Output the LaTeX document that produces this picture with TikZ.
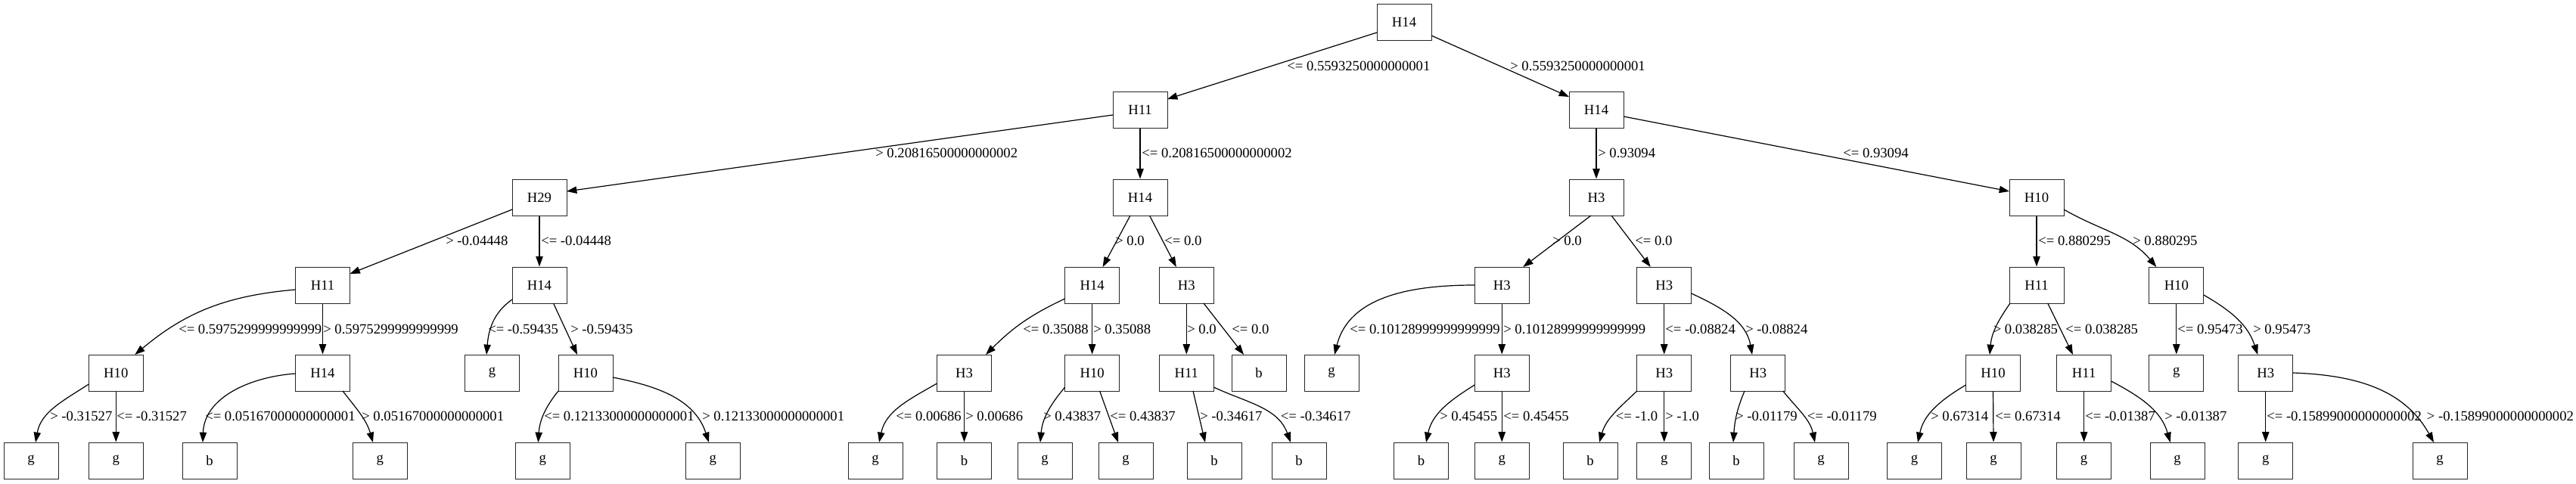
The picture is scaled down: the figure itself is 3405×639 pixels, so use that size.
\documentclass[tikz,border=0pt]{standalone}
\usepackage{fontspec}
\setmainfont{Liberation Serif}
\usetikzlibrary{arrows.meta}
\newcommand\edgelab[4]{\node[lbl] (#1) at (#2,-#3) {#4};}
\begin{document}
\begin{tikzpicture}[x=0.75pt,y=0.75pt,
  box/.style={draw=black!85,line width=0.75pt,minimum width=54pt,minimum height=36pt,inner sep=0pt,font=\fontsize{14}{16}\selectfont},
  edge/.style={line width=0.9pt,-{Triangle[length=10pt,width=7pt]}},
  lbl/.style={anchor=base west,inner sep=0pt,font=\fontsize{14}{16}\selectfont}]
\fill[white] (0,0) rectangle (3405,-639);
\useasboundingbox (0,0) rectangle (3405,-639);
% level 1-3
\node[box] (r) at (1856,-29) {H14};
\node[box] (a) at (1507,-145) {H11};
\node[box] (b) at (2110,-145) {H14};
\node[box] (c) at (713,-261) {H29};
\node[box] (d) at (1507,-261) {H14};
\node[box] (e) at (2110,-261) {H3};
\node[box] (f) at (2692,-261) {H10};
% level 4
\node[box] (g1) at (426.5,-377) {H11};
\node[box] (g2) at (713,-377) {H14};
\node[box] (g3) at (1443.6,-377) {H14};
\node[box] (g4) at (1568.3,-377) {H3};
\node[box] (g5) at (1985.2,-377) {H3};
\node[box] (g6) at (2199.7,-377) {H3};
\node[box] (g7) at (2692,-377) {H11};
\node[box] (g8) at (2876.8,-377) {H10};
% level 5
\node[box] (h1) at (153.3,-493) {H10};
\node[box] (h2) at (426.5,-493) {H14};
\node[box] (h3) at (650.5,-493) {g};
\node[box] (h4) at (774,-493) {H10};
\node[box] (h5) at (1274.5,-493) {H3};
\node[box] (h6) at (1443.6,-493) {H10};
\node[box] (h7) at (1568.3,-493) {H11};
\node[box] (h8) at (1664,-493) {b};
\node[box] (h9) at (1760,-493) {g};
\node[box] (h10) at (1985.2,-493) {H3};
\node[box] (h11) at (2199.7,-493) {H3};
\node[box] (h12) at (2323.7,-493) {H3};
\node[box] (h13) at (2634.5,-493) {H10};
\node[box] (h14) at (2754.6,-493) {H11};
\node[box] (h15) at (2876.8,-493) {g};
\node[box] (h16) at (2994.7,-493) {H3};
% level 6
\node[box] (k1) at (41,-609) {g};
\node[box] (k2) at (153.3,-609) {g};
\node[box] (k3) at (277,-609) {b};
\node[box] (k4) at (502.4,-609) {g};
\node[box] (k5) at (717.3,-609) {g};
\node[box] (k6) at (942.4,-609) {g};
\node[box] (k7) at (1157,-609) {g};
\node[box] (k8) at (1274.5,-609) {b};
\node[box] (k9) at (1381,-609) {g};
\node[box] (k10) at (1488,-609) {g};
\node[box] (k11) at (1605,-609) {b};
\node[box] (k12) at (1717,-609) {b};
\node[box] (k13) at (1878.5,-609) {b};
\node[box] (k14) at (1985.2,-609) {g};
\node[box] (k15) at (2102,-609) {b};
\node[box] (k16) at (2199.7,-609) {g};
\node[box] (k17) at (2295,-609) {b};
\node[box] (k18) at (2407,-609) {g};
\node[box] (k19) at (2530.6,-609) {g};
\node[box] (k20) at (2635,-609) {g};
\node[box] (k21) at (2754.6,-609) {g};
\node[box] (k22) at (2878,-609) {g};
\node[box] (k23) at (2994.7,-609) {g};
\node[box] (k24) at (3225,-609) {g};
% edges
\draw[edge] ([shift={(-36,-14)}]r.center) -- ([shift={(36,14)}]a.center);
\draw[edge] ([shift={(36,-18)}]r.center) -- ([shift={(-36,17)}]b.center);
\draw[edge] ([shift={(-36,-7)}]a.center) -- ([shift={(36,8)}]c.center);
\draw[edge] (a.south) -- (d.north);
\draw[edge] (b.south) -- (e.north);
\draw[edge] ([shift={(36,-9)}]b.center) -- ([shift={(-36,8)}]f.center);
\draw[edge] ([shift={(-36,-16)}]c.center) -- ([shift={(36,15)}]g1.center);
\draw[edge] (c.south) -- (g2.north);
\draw[edge] ([shift={(-13,-24)}]d.center) -- ([shift={(14,24)}]g3.center);
\draw[edge] ([shift={(12.5,-24)}]d.center) -- ([shift={(-13.5,24)}]g4.center);
\draw[edge] ([shift={(-7,-24)}]e.center) -- ([shift={(28,24)}]g5.center);
\draw[edge] ([shift={(20,-24)}]e.center) -- ([shift={(-18,24)}]g6.center);
\draw[edge] (f.south) -- (g7.north);
\draw[edge] ([shift={(36,-16)}]f.center) to[out=-30,in=130] ([shift={(-26.5,24)}]g8.center);
\draw[edge] ([shift={(-36,-6)}]g1.center) to[out=185,in=40] ([shift={(25,24)}]h1.center);
\draw[edge] (g1.south) -- (h2.north);
\draw[edge] ([shift={(-36,-19)}]g2.center) to[out=215,in=85] ([shift={(-7.5,24)}]h3.center);
\draw[edge] ([shift={(18.5,-24)}]g2.center) -- ([shift={(-11,24)}]h4.center);
\draw[edge] ([shift={(-36,-18)}]g3.center) to[out=205,in=45] ([shift={(28.5,24)}]h5.center);
\draw[edge] (g3.south) -- (h6.north);
\draw[edge] (g4.south) -- (h7.north);
\draw[edge] ([shift={(22.7,-24)}]g4.center) -- ([shift={(-20,24)}]h8.center);
\draw[edge] ([shift={(-36,0)}]g5.center) to[out=180,in=76] ([shift={(4,24)}]h9.center);
\draw[edge] (g5.south) -- (h10.north);
\draw[edge] (g6.south) -- (h11.north);
\draw[edge] ([shift={(36,-11)}]g6.center) to[out=-25,in=100] ([shift={(-7.7,24)}]h12.center);
\draw[edge] ([shift={(-35,-24)}]g7.center) to[out=235,in=85] ([shift={(-4.5,24)}]h13.center);
\draw[edge] ([shift={(14.7,-24)}]g7.center) -- ([shift={(-14.6,24)}]h14.center);
\draw[edge] (g8.south) -- (h15.north);
\draw[edge] ([shift={(36,-13)}]g8.center) to[out=-30,in=108] ([shift={(-10.5,24)}]h16.center);
\draw[edge] ([shift={(-36,-15)}]h1.center) to[out=213,in=80] ([shift={(6,24)}]k1.center);
\draw[edge] (h1.south) -- (k2.north);
\draw[edge] ([shift={(-36,-1)}]h2.center) to[out=184,in=88] ([shift={(-9,24)}]k3.center);
\draw[edge] ([shift={(26.5,-24)}]h2.center) to[out=-52,in=106] ([shift={(-9.4,24)}]k4.center);
\draw[edge] ([shift={(-36,-24)}]h4.center) to[out=231,in=86] ([shift={(-6,24)}]k5.center);
\draw[edge] ([shift={(36,-6)}]h4.center) to[out=-11,in=108] ([shift={(-5.4,24)}]k6.center);
\draw[edge] ([shift={(-36,-14)}]h5.center) to[out=210,in=78] ([shift={(5,24)}]k7.center);
\draw[edge] (h5.south) -- (k8.north);
\draw[edge] ([shift={(-36,-19)}]h6.center) to[out=230,in=85] ([shift={(-6,24)}]k9.center);
\draw[edge] ([shift={(10,-24)}]h6.center) -- ([shift={(-10,24)}]k10.center);
\draw[edge] ([shift={(8.7,-24)}]h7.center) -- ([shift={(-12,24)}]k11.center);
\draw[edge] ([shift={(36,-19)}]h7.center) to[out=-25,in=110] ([shift={(-11,24)}]k12.center);
\draw[edge] ([shift={(-36,-16)}]h10.center) to[out=212,in=78] ([shift={(6.5,24)}]k13.center);
\draw[edge] (h10.south) -- (k14.north);
\draw[edge] ([shift={(-36,-24)}]h11.center) to[out=224,in=74] ([shift={(12,24)}]k15.center);
\draw[edge] (h11.south) -- (k16.north);
\draw[edge] ([shift={(-17.7,-24)}]h12.center) to[out=247,in=86] ([shift={(-4,24)}]k17.center);
\draw[edge] ([shift={(33,-24)}]h12.center) to[out=-51,in=102] ([shift={(-8,24)}]k18.center);
\draw[edge] ([shift={(-36,-16)}]h13.center) to[out=211,in=78] ([shift={(4.4,24)}]k19.center);
\draw[edge] (h13.south) -- (k20.north);
\draw[edge] (h14.south) -- (k21.north);
\draw[edge] ([shift={(36,-11)}]h14.center) to[out=-28,in=106] ([shift={(-9.3,24)}]k22.center);
\draw[edge] (h16.south) -- (k23.north);
\draw[edge] ([shift={(36,0)}]h16.center) to[out=-2,in=119] ([shift={(-8,24)}]k24.center);
% labels
\edgelab{l1}{1701}{93}{<= 0.5593250000000001}
\edgelab{l2}{1996}{93}{> 0.5593250000000001}
\edgelab{l3}{1157}{208}{> 0.20816500000000002}
\edgelab{l4}{1509}{208}{<= 0.20816500000000002}
\edgelab{l5}{2112}{208}{> 0.93094}
\edgelab{l6}{2436}{208}{<= 0.93094}
\edgelab{l7}{589}{324}{> -0.04448}
\edgelab{l8}{715}{324}{<= -0.04448}
\edgelab{l9}{1474}{324}{> 0.0}
\edgelab{l10}{1539}{324}{<= 0.0}
\edgelab{l11}{2052}{324}{> 0.0}
\edgelab{l12}{2161}{324}{<= 0.0}
\edgelab{l13}{2694}{324}{<= 0.880295}
\edgelab{l14}{2819}{324}{> 0.880295}
\edgelab{l15}{236}{441}{<= 0.5975299999999999}
\edgelab{l16}{427}{441}{> 0.5975299999999999}
\edgelab{l17}{645}{441}{<= -0.59435}
\edgelab{l18}{754}{441}{> -0.59435}
\edgelab{l19}{1352}{441}{<= 0.35088}
\edgelab{l20}{1445}{441}{> 0.35088}
\edgelab{l21}{1569}{441}{> 0.0}
\edgelab{l22}{1628}{441}{<= 0.0}
\edgelab{l23}{1784}{441}{<= 0.10128999999999999}
\edgelab{l24}{1987}{441}{> 0.10128999999999999}
\edgelab{l25}{2201}{441}{<= -0.08824}
\edgelab{l26}{2307}{441}{> -0.08824}
\edgelab{l27}{2634.5}{441}{> 0.038285}
\edgelab{l28}{2730}{441}{<= 0.038285}
\edgelab{l29}{2878}{441}{<= 0.95473}
\edgelab{l30}{2978}{441}{> 0.95473}
\edgelab{l31}{66}{556}{> -0.31527}
\edgelab{l32}{154}{556}{<= -0.31527}
\edgelab{l33}{271}{556}{<= 0.05167000000000001}
\edgelab{l34}{478}{556}{> 0.05167000000000001}
\edgelab{l35}{719}{556}{<= 0.12133000000000001}
\edgelab{l36}{928}{556}{> 0.12133000000000001}
\edgelab{l37}{1184}{556}{<= 0.00686}
\edgelab{l38}{1276}{556}{> 0.00686}
\edgelab{l39}{1379}{556}{> 0.43837}
\edgelab{l40}{1467}{556}{<= 0.43837}
\edgelab{l41}{1586}{556}{> -0.34617}
\edgelab{l42}{1692.6}{556}{<= -0.34617}
\edgelab{l43}{1903}{556}{> 0.45455}
\edgelab{l44}{1987}{556}{<= 0.45455}
\edgelab{l45}{2135.6}{556}{<= -1.0}
\edgelab{l46}{2201}{556}{> -1.0}
\edgelab{l47}{2294}{556}{> -0.01179}
\edgelab{l48}{2388.5}{556}{<= -0.01179}
\edgelab{l49}{2552}{556}{> 0.67314}
\edgelab{l50}{2637}{556}{<= 0.67314}
\edgelab{l51}{2756}{556}{<= -0.01387}
\edgelab{l52}{2861}{556}{> -0.01387}
\edgelab{l53}{2996}{556}{<= -0.15899000000000002}
\edgelab{l54}{3207.6}{556}{> -0.15899000000000002}
\end{tikzpicture}
\end{document}
